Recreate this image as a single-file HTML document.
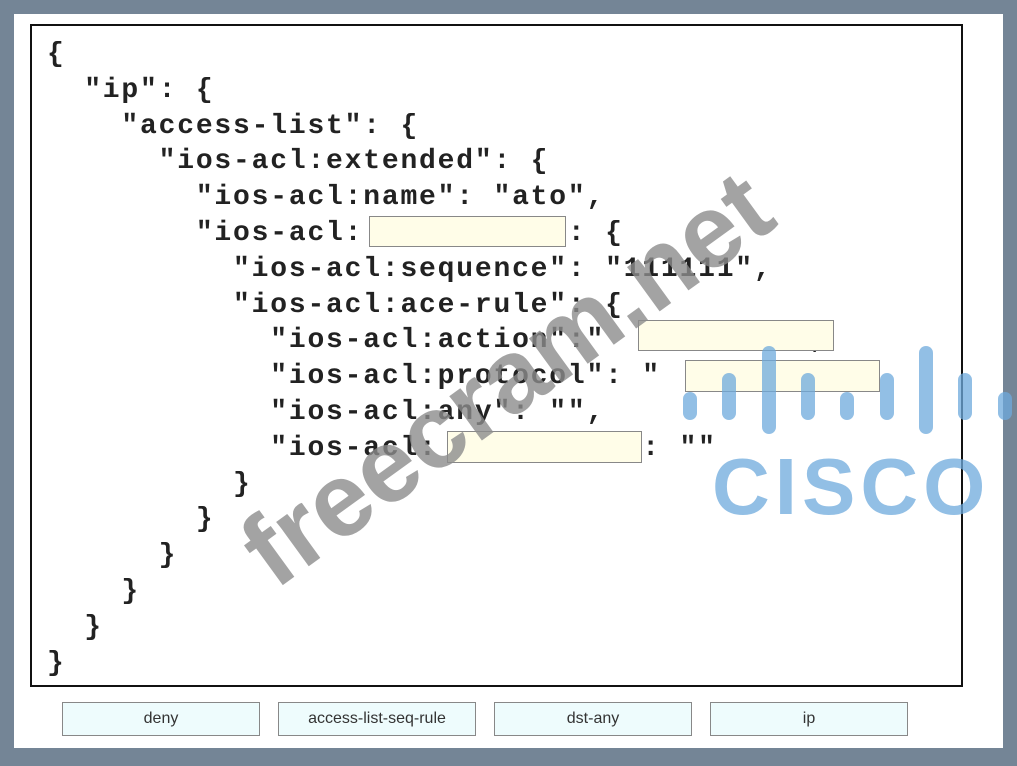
<!DOCTYPE html>
<html><head><meta charset="utf-8"><style>
body{margin:0;width:1017px;height:766px;background:#748596;position:relative;overflow:hidden}
#panel{position:absolute;left:14px;top:14px;width:989px;height:734px;background:#fff}
#box{position:absolute;left:30px;top:24px;width:929px;height:659px;border:2px solid #111;background:#fff}
.code{position:absolute;left:0;top:0;font-family:"Liberation Mono",monospace;font-weight:bold;font-size:28px;letter-spacing:1.8px;color:#222;white-space:pre;line-height:35.8px}
.blank{position:absolute;background:#fffde8;border:1px solid #888;box-sizing:border-box}
.btn{position:absolute;top:702px;width:198px;height:34px;background:#eefcfd;border:1px solid #888;box-sizing:border-box;font-family:"Liberation Sans",sans-serif;font-size:16px;color:#333;text-align:center;line-height:32px}
.bar{position:absolute;width:14px;border-radius:7px;background:rgba(110,170,220,0.75)}
#cisco{position:absolute;left:712px;top:441px;font-family:"Liberation Sans",sans-serif;font-weight:bold;font-size:80px;color:rgba(110,170,220,0.75);letter-spacing:5px}
#wm{position:absolute;left:195px;top:320px;font-family:"Liberation Sans",sans-serif;font-weight:bold;font-size:104px;color:rgba(140,140,140,0.8);transform:rotate(-36deg);transform-origin:center;white-space:nowrap}
</style></head><body>
<div id="panel"></div>
<div id="box"></div>
<div class="code" style="left:47px;top:37px">{
  "ip": {
    "access-list": {
      "ios-acl:extended": {
        "ios-acl:name": "ato",
        "ios-acl:          ": {
          "ios-acl:sequence": "111111",
          "ios-acl:ace-rule": {
            "ios-acl:action":"          ",
            "ios-acl:protocol": "          ",
            "ios-acl:any": "",
            "ios-acl:          ": ""
          }
        }
      }
    }
  }
}</div>
<div class="blank" style="left:369px;top:216px;width:197px;height:31px"></div>
<div class="blank" style="left:638px;top:320px;width:196px;height:31px"></div>
<div class="blank" style="left:685px;top:360px;width:195px;height:32px"></div>
<div class="blank" style="left:447px;top:431px;width:195px;height:32px"></div>
<div id="wm">freecram.net</div>
<div class="bar" style="left:683px;top:392px;height:28px"></div>
<div class="bar" style="left:722px;top:373px;height:47px"></div>
<div class="bar" style="left:762px;top:346px;height:88px"></div>
<div class="bar" style="left:801px;top:373px;height:47px"></div>
<div class="bar" style="left:840px;top:392px;height:28px"></div>
<div class="bar" style="left:880px;top:373px;height:47px"></div>
<div class="bar" style="left:919px;top:346px;height:88px"></div>
<div class="bar" style="left:958px;top:373px;height:47px"></div>
<div class="bar" style="left:998px;top:392px;height:28px"></div>
<div id="cisco">CISCO</div>
<div class="btn" style="left:62px">deny</div>
<div class="btn" style="left:278px">access-list-seq-rule</div>
<div class="btn" style="left:494px">dst-any</div>
<div class="btn" style="left:710px">ip</div>
</body></html>
